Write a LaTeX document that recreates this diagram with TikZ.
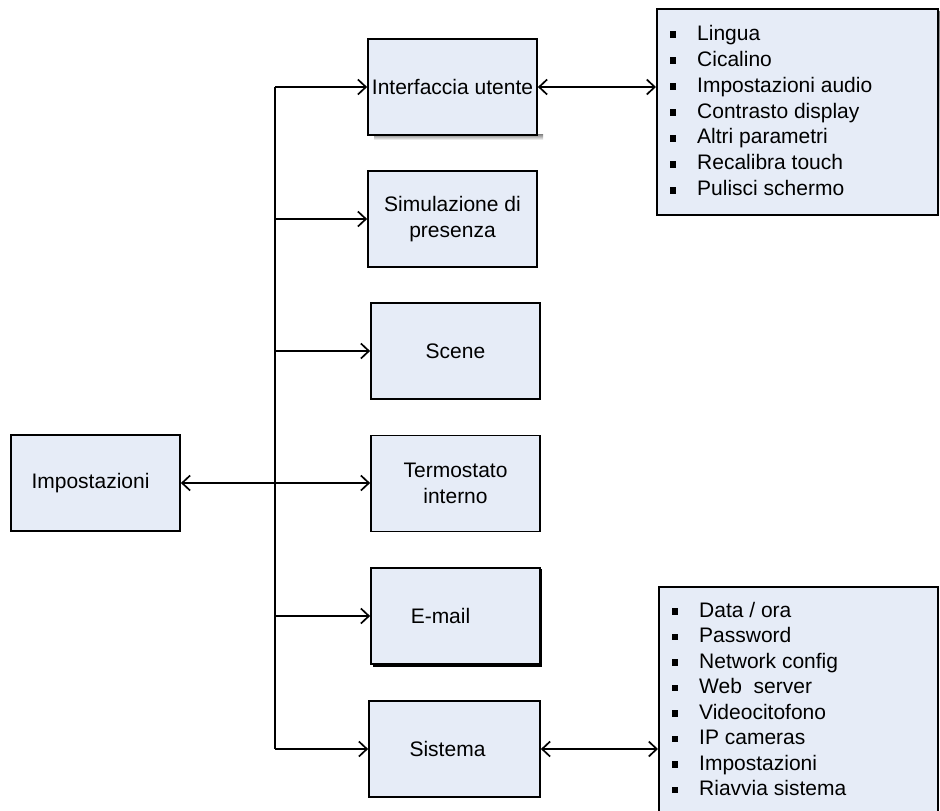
\documentclass[tikz,border=0pt]{standalone}
\usepackage{fontspec}
\setmainfont{Liberation Sans}
\usetikzlibrary{arrows.meta}
\definecolor{boxfill}{RGB}{230,236,247}
\definecolor{shade}{RGB}{128,128,128}
\newcommand\sqbullet{\makebox[27pt][l]{\rule[2.4pt]{6.2pt}{6.2pt}}}
\begin{document}
\begin{tikzpicture}[x=1pt,y=-1pt,
  txt/.style={font=\fontsize{21}{26}\selectfont},
  box/.style={draw=black,line width=1.7pt,fill=boxfill,minimum width=169pt,
    minimum height=96pt,inner sep=0pt,align=center,txt},
  listbox/.style={draw=black,line width=1.7pt,fill=boxfill,inner sep=0pt,anchor=north west},
  listtext/.style={inner sep=0pt,anchor=base west,txt},
  link/.style={line width=1.7pt},
  barb/.tip={Straight Barb[length=8pt,width=15pt,line width=1.7pt]},
  tip/.style={link,-barb},
  twotip/.style={link,barb-barb}]
\useasboundingbox (0,0) rectangle (940,811);
\clip (0,0) rectangle (940,811);

% shadows
\fill[shade] (374,134) rectangle (543,140);
\fill[shade] (659,11) rectangle (940,217);
\fill[black] (373,569) rectangle (542,667);

% main node and sub-menu boxes
\node[box] (imp) at (95.5,483) {\hspace*{-10pt}Impostazioni};
\node[box] (ui) at (452.5,87) {Interfaccia utente};
\node[box] (sim) at (452.5,219) {Simulazione di\\presenza};
\node[box] (scene) at (455.5,351) {Scene};
\node[box] (term) at (455.5,483.5) {Termostato\\interno};
\node[box] (mail) at (455.5,616) {\hspace*{-30pt}E-mail};
\node[box,minimum width=171pt] (sys) at (454.5,749) {\hspace*{-14pt}Sistema};

% option lists
\node[listbox,minimum width=281pt,minimum height=206pt] (l1) at (656,8) {};
\node[listtext] (l1t) at (670,40) {\begin{tabular}[t]{@{}l@{}}
\sqbullet Lingua\\
\sqbullet Cicalino\\
\sqbullet Impostazioni audio\\
\sqbullet Contrasto display\\
\sqbullet Altri parametri\\
\sqbullet Recalibra touch\\
\sqbullet Pulisci schermo
\end{tabular}};
\node[listbox,minimum width=279pt,minimum height=240pt] (l2) at (658,586) {};
\node[listtext,font=\fontsize{21}{25.5}\selectfont] (l2t) at (672,617) {\begin{tabular}[t]{@{}l@{}}
\sqbullet Data / ora\\
\sqbullet Password\\
\sqbullet Network config\\
\sqbullet Web\ \ server\\
\sqbullet Videocitofono\\
\sqbullet IP cameras\\
\sqbullet Impostazioni\\
\sqbullet Riavvia sistema
\end{tabular}};

% trunk line
\coordinate (trunk) at (275,0);
\draw[link] (ui.west -| trunk) -- (sys.west -| trunk);

% branches
\draw[tip] (ui.west -| trunk) -- (ui.west);
\draw[tip] (sim.west -| trunk) -- (sim.west);
\draw[tip] (scene.west -| trunk) -- (scene.west);
\draw[tip] (mail.west -| trunk) -- (mail.west);
\draw[tip] (sys.west -| trunk) -- (sys.west);
\draw[twotip] (imp.east) -- (imp.east -| term.west);

% links to option lists
\draw[twotip] (ui.east) -- (ui.east -| l1.west);
\draw[twotip] (sys.east) -- (sys.east -| l2.west);
\end{tikzpicture}
\end{document}
